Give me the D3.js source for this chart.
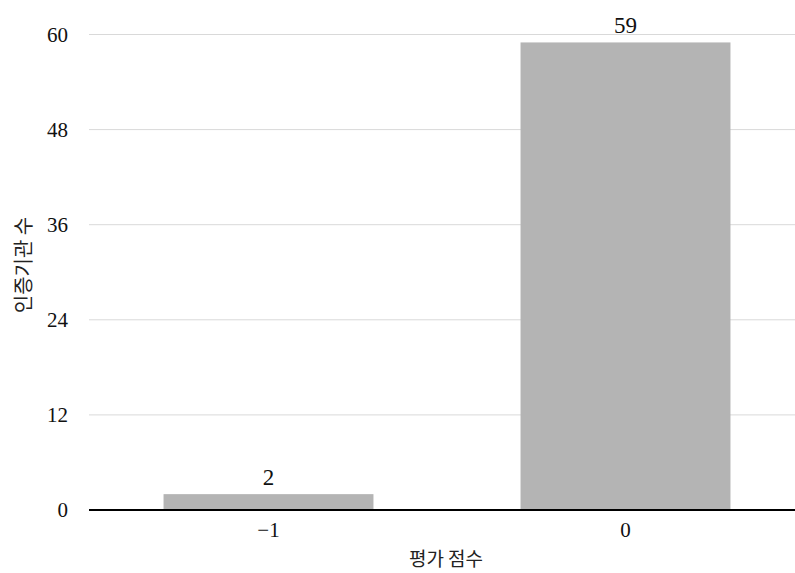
<!DOCTYPE html>
<html><head><meta charset="utf-8">
<script src="https://cdn.jsdelivr.net/npm/d3@7"></script>
<style>body{margin:0;background:#fff}svg{display:block}
.serif{font-family:"Liberation Serif","Times New Roman",serif}
.kor{font-family:"Noto Sans CJK KR","Noto Sans",sans-serif}</style>
</head><body>
<script>
const categories = ["−1", "0"];
const values = [2, 59];
const yTicks = [0, 12, 24, 36, 48, 60];
const xTitle = "평가 점수";
const yTitle = "인증기관 수";

const W = 795, H = 573;
const svg = d3.select("body").append("svg").attr("width", W).attr("height", H);

const y = d3.scaleLinear().domain([0, 60]).range([510, 34.5]);
const x = d3.scaleBand().domain(categories).range([90, 90 + 2 * 357]).paddingInner(0.412).paddingOuter(0.206);

const grid = svg.append("g");
grid.selectAll("line").data(yTicks.filter(d => d > 0)).join("line")
  .attr("x1", 89).attr("x2", W).attr("y1", d => y(d)).attr("y2", d => y(d))
  .attr("stroke", "#d9d9d9").attr("stroke-width", 1);

const yAxis = svg.append("g").attr("transform", "translate(89,0)")
  .call(d3.axisLeft(y).tickValues(yTicks).tickSize(0).tickPadding(21));
yAxis.attr("font-family", null).attr("font-size", null);
yAxis.select(".domain").remove();
yAxis.selectAll("text").attr("class", "serif").style("font-size", "21px").attr("fill", "#111");

svg.selectAll("rect.bar").data(values).join("rect").attr("class", "bar")
  .attr("x", (d, i) => x(categories[i])).attr("width", x.bandwidth())
  .attr("y", d => y(d)).attr("height", d => y(0) - y(d)).attr("fill", "#b4b4b4");

svg.selectAll("text.val").data(values).join("text").attr("class", "serif")
  .attr("x", (d, i) => x(categories[i]) + x.bandwidth() / 2).attr("y", d => y(d) - 9)
  .attr("text-anchor", "middle").style("font-size", "23px").attr("fill", "#111")
  .text(d => d);

const xAxis = svg.append("g").attr("transform", "translate(0,510)")
  .call(d3.axisBottom(x).tickSize(0).tickPadding(12));
xAxis.attr("font-family", null).attr("font-size", null);
xAxis.select(".domain").remove();
xAxis.selectAll("text").attr("class", "serif").style("font-size", "21px").attr("fill", "#111");
svg.append("line").attr("x1", 89).attr("x2", W).attr("y1", y(0)).attr("y2", y(0))
  .attr("stroke", "#000").attr("stroke-width", 2);

svg.append("text").attr("class", "kor").attr("x", 446).attr("y", 566).attr("text-anchor", "middle")
  .style("font-size", "19px").attr("fill", "#222").text(xTitle);
svg.append("text").attr("class", "kor").attr("transform", "translate(31,265) rotate(-90)").attr("text-anchor", "middle")
  .style("font-size", "20px").attr("fill", "#222").text(yTitle);
</script>
</body></html>
